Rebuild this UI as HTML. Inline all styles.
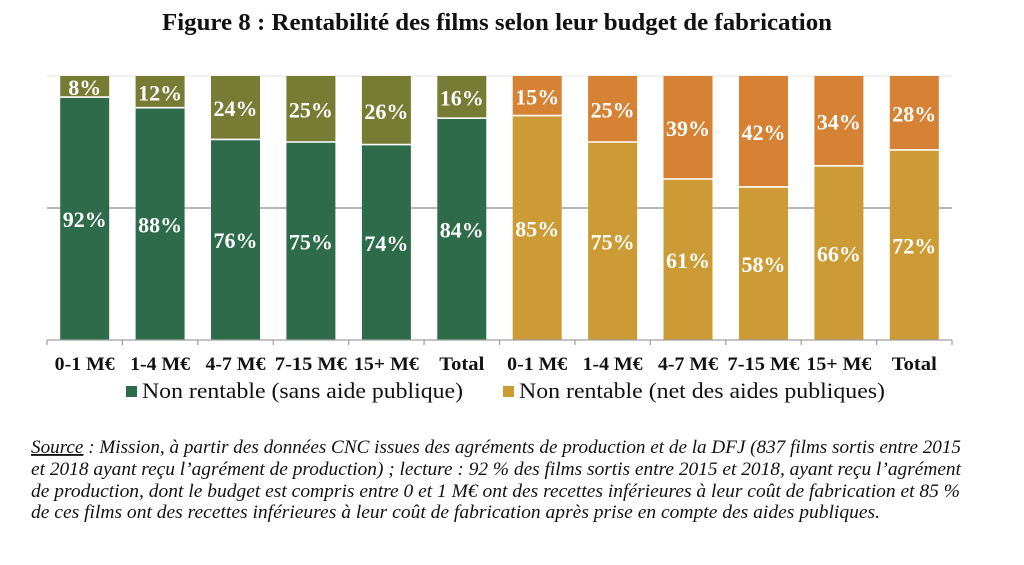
<!DOCTYPE html>
<html>
<head>
<meta charset="utf-8">
<style>
  html, body { margin: 0; padding: 0; background: #ffffff; }
  body { width: 1024px; height: 565px; overflow: hidden; }
  svg { display: block; }
  .lbl { font-family: "Liberation Serif", "DejaVu Serif", serif; font-weight: bold; font-size: 22px; fill: #ffffff; }
  .cat { font-family: "Liberation Serif", "DejaVu Serif", serif; font-weight: bold; font-size: 18.5px; fill: #111111; }
  .leg { font-family: "Liberation Serif", "DejaVu Serif", serif; font-size: 22px; fill: #111111; }
  .title { font-family: "Liberation Serif", "DejaVu Serif", serif; font-weight: bold; font-size: 24px; fill: #111111; }
  .src { font-family: "Liberation Serif", "DejaVu Serif", serif; font-style: italic; font-size: 18.5px; fill: #111111; }
</style>
</head>
<body>
<svg width="1024" height="565" viewBox="0 0 1024 565" xmlns="http://www.w3.org/2000/svg">
  <!-- Title -->
  <text class="title" x="162" y="30" textLength="670" lengthAdjust="spacingAndGlyphs">Figure 8 : Rentabilité des films selon leur budget de fabrication</text>

  <!-- gridlines -->
  <line x1="47" y1="76" x2="952" y2="76" stroke="#e4e4e4" stroke-width="1"/>
  <line x1="47" y1="208" x2="952" y2="208" stroke="#8c8c8c" stroke-width="1.3"/>

  <!-- Green group bars -->
  <g>
    <rect x="60.2" y="76" width="49" height="21.1" fill="#777c34"/>
    <rect x="60.2" y="97.1" width="49" height="242.9" fill="#2e6b4a"/>
    <rect x="135.6" y="76" width="49" height="31.7" fill="#777c34"/>
    <rect x="135.6" y="107.7" width="49" height="232.3" fill="#2e6b4a"/>
    <rect x="211.0" y="76" width="49" height="63.4" fill="#777c34"/>
    <rect x="211.0" y="139.4" width="49" height="200.6" fill="#2e6b4a"/>
    <rect x="286.4" y="76" width="49" height="66" fill="#777c34"/>
    <rect x="286.4" y="142" width="49" height="198" fill="#2e6b4a"/>
    <rect x="361.9" y="76" width="49" height="68.6" fill="#777c34"/>
    <rect x="361.9" y="144.6" width="49" height="195.4" fill="#2e6b4a"/>
    <rect x="437.3" y="76" width="49" height="42.2" fill="#777c34"/>
    <rect x="437.3" y="118.2" width="49" height="221.8" fill="#2e6b4a"/>
  </g>

  <!-- Orange group bars -->
  <g>
    <rect x="512.7" y="76" width="49" height="39.6" fill="#d58235"/>
    <rect x="512.7" y="115.6" width="49" height="224.4" fill="#cc9b35"/>
    <rect x="588.1" y="76" width="49" height="66" fill="#d58235"/>
    <rect x="588.1" y="142" width="49" height="198" fill="#cc9b35"/>
    <rect x="663.5" y="76" width="49" height="103" fill="#d58235"/>
    <rect x="663.5" y="179" width="49" height="161" fill="#cc9b35"/>
    <rect x="739.0" y="76" width="49" height="110.9" fill="#d58235"/>
    <rect x="739.0" y="186.9" width="49" height="153.1" fill="#cc9b35"/>
    <rect x="814.4" y="76" width="49" height="89.8" fill="#d58235"/>
    <rect x="814.4" y="165.8" width="49" height="174.2" fill="#cc9b35"/>
    <rect x="889.8" y="76" width="49" height="73.9" fill="#d58235"/>
    <rect x="889.8" y="149.9" width="49" height="190.1" fill="#cc9b35"/>
  </g>

  <!-- white separators between segments -->
  <g stroke="#ffffff" stroke-width="1.6">
    <line x1="60.2" y1="97.1" x2="109.2" y2="97.1"/>
    <line x1="135.6" y1="107.7" x2="184.6" y2="107.7"/>
    <line x1="211.0" y1="139.4" x2="260.0" y2="139.4"/>
    <line x1="286.4" y1="142" x2="335.4" y2="142"/>
    <line x1="361.9" y1="144.6" x2="410.9" y2="144.6"/>
    <line x1="437.3" y1="118.2" x2="486.3" y2="118.2"/>
    <line x1="512.7" y1="115.6" x2="561.7" y2="115.6"/>
    <line x1="588.1" y1="142" x2="637.1" y2="142"/>
    <line x1="663.5" y1="179" x2="712.5" y2="179"/>
    <line x1="739.0" y1="186.9" x2="788.0" y2="186.9"/>
    <line x1="814.4" y1="165.8" x2="863.4" y2="165.8"/>
    <line x1="889.8" y1="149.9" x2="938.8" y2="149.9"/>
  </g>

  <!-- axis -->
  <line x1="47" y1="340" x2="952" y2="340" stroke="#a0a0a0" stroke-width="1.3"/>
  <g stroke="#a0a0a0" stroke-width="1.3">
    <line x1="47" y1="340" x2="47" y2="345"/>
    <line x1="122.4" y1="340" x2="122.4" y2="345"/>
    <line x1="197.8" y1="340" x2="197.8" y2="345"/>
    <line x1="273.3" y1="340" x2="273.3" y2="345"/>
    <line x1="348.7" y1="340" x2="348.7" y2="345"/>
    <line x1="424.1" y1="340" x2="424.1" y2="345"/>
    <line x1="499.5" y1="340" x2="499.5" y2="345"/>
    <line x1="574.9" y1="340" x2="574.9" y2="345"/>
    <line x1="650.3" y1="340" x2="650.3" y2="345"/>
    <line x1="725.8" y1="340" x2="725.8" y2="345"/>
    <line x1="801.2" y1="340" x2="801.2" y2="345"/>
    <line x1="876.6" y1="340" x2="876.6" y2="345"/>
    <line x1="952" y1="340" x2="952" y2="345"/>
  </g>

  <!-- data labels -->
  <g class="lbl" text-anchor="middle">
    <text x="84.7" y="95.1" textLength="33" lengthAdjust="spacingAndGlyphs">8%</text>
    <text x="84.7" y="227.1" textLength="44" lengthAdjust="spacingAndGlyphs">92%</text>
    <text x="160.1" y="100.3" textLength="44" lengthAdjust="spacingAndGlyphs">12%</text>
    <text x="160.1" y="232.3" textLength="44" lengthAdjust="spacingAndGlyphs">88%</text>
    <text x="235.5" y="116.2" textLength="44" lengthAdjust="spacingAndGlyphs">24%</text>
    <text x="235.5" y="248.2" textLength="44" lengthAdjust="spacingAndGlyphs">76%</text>
    <text x="310.9" y="117.5" textLength="44" lengthAdjust="spacingAndGlyphs">25%</text>
    <text x="310.9" y="249.5" textLength="44" lengthAdjust="spacingAndGlyphs">75%</text>
    <text x="386.4" y="118.8" textLength="44" lengthAdjust="spacingAndGlyphs">26%</text>
    <text x="386.4" y="250.8" textLength="44" lengthAdjust="spacingAndGlyphs">74%</text>
    <text x="461.8" y="105.6" textLength="44" lengthAdjust="spacingAndGlyphs">16%</text>
    <text x="461.8" y="237.6" textLength="44" lengthAdjust="spacingAndGlyphs">84%</text>

    <text x="537.2" y="104.3" textLength="44" lengthAdjust="spacingAndGlyphs">15%</text>
    <text x="537.2" y="236.3" textLength="44" lengthAdjust="spacingAndGlyphs">85%</text>
    <text x="612.6" y="117.5" textLength="44" lengthAdjust="spacingAndGlyphs">25%</text>
    <text x="612.6" y="249.5" textLength="44" lengthAdjust="spacingAndGlyphs">75%</text>
    <text x="688.0" y="136" textLength="44" lengthAdjust="spacingAndGlyphs">39%</text>
    <text x="688.0" y="268" textLength="44" lengthAdjust="spacingAndGlyphs">61%</text>
    <text x="763.5" y="139.9" textLength="44" lengthAdjust="spacingAndGlyphs">42%</text>
    <text x="763.5" y="271.9" textLength="44" lengthAdjust="spacingAndGlyphs">58%</text>
    <text x="838.9" y="129.4" textLength="44" lengthAdjust="spacingAndGlyphs">34%</text>
    <text x="838.9" y="261.4" textLength="44" lengthAdjust="spacingAndGlyphs">66%</text>
    <text x="914.3" y="121.5" textLength="44" lengthAdjust="spacingAndGlyphs">28%</text>
    <text x="914.3" y="253.5" textLength="44" lengthAdjust="spacingAndGlyphs">72%</text>
  </g>

  <!-- category labels -->
  <g class="cat" text-anchor="middle">
    <text x="84.7" y="370" textLength="60" lengthAdjust="spacingAndGlyphs">0-1 M€</text>
    <text x="160.1" y="370" textLength="60" lengthAdjust="spacingAndGlyphs">1-4 M€</text>
    <text x="235.5" y="370" textLength="60" lengthAdjust="spacingAndGlyphs">4-7 M€</text>
    <text x="310.9" y="370" textLength="72" lengthAdjust="spacingAndGlyphs">7-15 M€</text>
    <text x="386.4" y="370" textLength="65" lengthAdjust="spacingAndGlyphs">15+ M€</text>
    <text x="461.8" y="370" textLength="45" lengthAdjust="spacingAndGlyphs">Total</text>
    <text x="537.2" y="370" textLength="60" lengthAdjust="spacingAndGlyphs">0-1 M€</text>
    <text x="612.6" y="370" textLength="60" lengthAdjust="spacingAndGlyphs">1-4 M€</text>
    <text x="688.0" y="370" textLength="60" lengthAdjust="spacingAndGlyphs">4-7 M€</text>
    <text x="763.5" y="370" textLength="72" lengthAdjust="spacingAndGlyphs">7-15 M€</text>
    <text x="838.9" y="370" textLength="65" lengthAdjust="spacingAndGlyphs">15+ M€</text>
    <text x="914.3" y="370" textLength="45" lengthAdjust="spacingAndGlyphs">Total</text>
  </g>

  <!-- legend -->
  <rect x="126" y="386" width="11" height="11" fill="#2e6b4a"/>
  <text class="leg" x="142" y="398" textLength="321" lengthAdjust="spacingAndGlyphs">Non rentable (sans aide publique)</text>
  <rect x="503" y="386" width="11" height="11" fill="#cc9b35"/>
  <text class="leg" x="519" y="398" textLength="366" lengthAdjust="spacingAndGlyphs">Non rentable (net des aides publiques)</text>

  <!-- source -->
  <text class="src" x="31" y="453" textLength="930" lengthAdjust="spacingAndGlyphs"><tspan text-decoration="underline">Source</tspan> : Mission, à partir des données CNC issues des agréments de production et de la DFJ (837 films sortis entre 2015</text>
  <text class="src" x="31" y="475" textLength="930" lengthAdjust="spacingAndGlyphs">et 2018 ayant reçu l’agrément de production) ; lecture : 92 % des films sortis entre 2015 et 2018, ayant reçu l’agrément</text>
  <text class="src" x="31" y="497" textLength="929" lengthAdjust="spacingAndGlyphs">de production, dont le budget est compris entre 0 et 1 M€ ont des recettes inférieures à leur coût de fabrication et 85 %</text>
  <text class="src" x="31" y="518" textLength="849" lengthAdjust="spacingAndGlyphs">de ces films ont des recettes inférieures à leur coût de fabrication après prise en compte des aides publiques.</text>
</svg>
</body>
</html>
